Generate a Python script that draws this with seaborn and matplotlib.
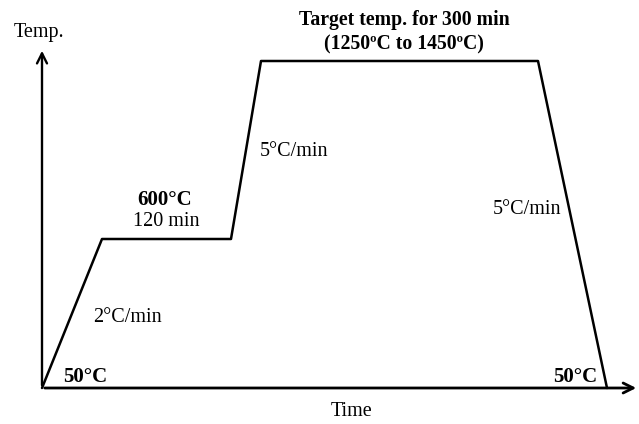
import matplotlib
matplotlib.use("Agg")
import matplotlib.pyplot as plt
import seaborn as sns
import pandas as pd

# Schematic heating profile (arbitrary schematic units)
time_pts = [0, 60, 189, 219, 496, 565]
temp_pts = [0, 149, 149, 327, 327, 0]

sns.set_theme(style="white")
plt.rcParams['font.family'] = ['Liberation Serif', 'DejaVu Serif']
plt.rcParams['text.color'] = 'black'

fig = plt.figure(figsize=(6.39, 4.24), dpi=100)
ax = fig.add_axes([42/639, 36/424, 597/639, 338/424])
ax.set_xlim(0, 597)
ax.set_ylim(0, 338)
ax.axis('off')

df = pd.DataFrame({"time": time_pts, "temp": temp_pts})
sns.lineplot(data=df, x="time", y="temp", sort=False, color="black", lw=1.8, ax=ax, clip_on=False)

# axes with arrows
ax.annotate("", xy=(0, 340), xytext=(0, 0), annotation_clip=False,
            arrowprops=dict(arrowstyle="->", lw=1.7, color="black", mutation_scale=18))
ax.annotate("", xy=(597, 0), xytext=(0, 0), annotation_clip=False,
            arrowprops=dict(arrowstyle="->", lw=2.0, color="black", mutation_scale=18))

fs = 14.5
fb = 15
ft = 14.2
ax.text(-3, 356, "Temp.", ha="center", va="center", fontsize=fs, color="black")
ax.text(310, -24, "Time", ha="center", va="center", fontsize=fs, color="black")
ax.text(362, 368, "Target temp. for 300 min", ha="center", va="center", fontsize=ft, fontweight="bold", color="black")
ax.text(362, 344, "(1250ºC to 1450ºC)", ha="center", va="center", fontsize=ft, fontweight="bold", color="black")
ax.text(123, 188, "600°C", ha="center", va="center", fontsize=fb, fontweight="bold", color="black")
ax.text(124, 166, "120 min", ha="center", va="center", fontsize=fs, color="black")
ax.text(85, 70, "2°C/min", ha="center", va="center", fontsize=fs, color="black")
ax.text(218, 237, "5°C/min", ha="left", va="center", fontsize=fs, color="black")
ax.text(519, 178, "5°C/min", ha="right", va="center", fontsize=fs, color="black")
ax.text(21, 11, "50°C", ha="left", va="center", fontsize=fb, fontweight="bold", color="black")
ax.text(555, 11, "50°C", ha="right", va="center", fontsize=fb, fontweight="bold", color="black")

fig.savefig("out.png", dpi=100, facecolor="white")
